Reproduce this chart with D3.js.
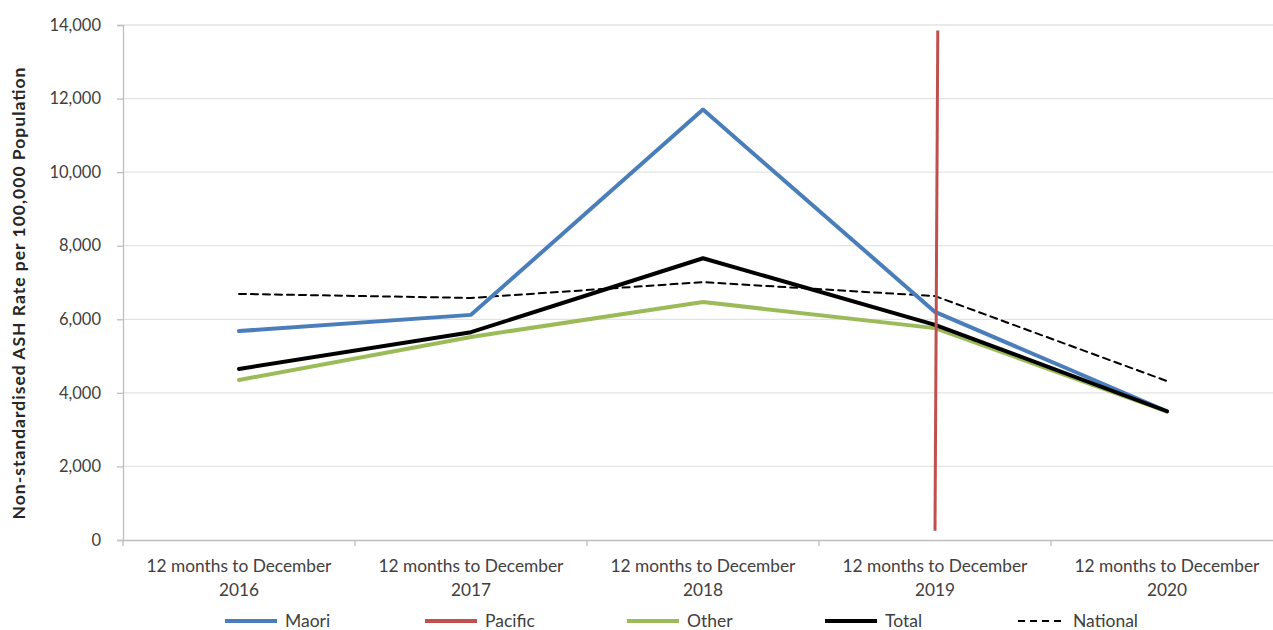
<!DOCTYPE html>
<html>
<head>
<meta charset="utf-8">
<script src="https://d3js.org/d3.v7.min.js"></script>
<style>
  html, body { margin: 0; padding: 0; background: #fff; }
  svg { display: block; }
  text { font-family: Lato, "Open Sans", "Liberation Sans", sans-serif; }
</style>
</head>
<body>
<svg id="chart" width="1273" height="630"></svg>
<script>
// Periods on the x axis (two-line labels)
const categories = [
  ["12 months to December", "2016"],
  ["12 months to December", "2017"],
  ["12 months to December", "2018"],
  ["12 months to December", "2019"],
  ["12 months to December", "2020"]
];

// Non-standardised ASH rate per 100,000 population
const maori    = [5680, 6120, 11700, 6200, 3500];
const other    = [4350, 5520, 6470, 5760, 3490];
const total    = [4650, 5650, 7660, 5850, 3500];
const national = [6690, 6580, 7010, 6630, 4320];
// Pacific appears as a single near-vertical stroke at the 2019 period
const pacificIndex = 3;
const pacific = [13850, 250];

const yTicks = [0, 2000, 4000, 6000, 8000, 10000, 12000, 14000];
const legendItems = ["Maori", "Pacific", "Other", "Total", "National"];

const colors = {
  Maori: "#4a7ebb",
  Pacific: "#c0504d",
  Other: "#9bbb59",
  Total: "#000000",
  National: "#000000"
};

const svg = d3.select("#chart");
const plotLeft = 123, plotRight = 1283, plotTop = 25, plotBottom = 540;

const x = d3.scaleBand().domain(d3.range(categories.length)).range([plotLeft, plotRight]).padding(0);
const cx = i => x(i) + x.bandwidth() / 2;
const y = d3.scaleLinear().domain([0, 14000]).range([plotBottom, plotTop]);

// Gridlines
svg.append("g")
  .selectAll("line")
  .data(yTicks.filter(d => d > 0))
  .join("line")
  .attr("x1", plotLeft).attr("x2", plotRight)
  .attr("y1", d => y(d)).attr("y2", d => y(d))
  .attr("stroke", "#e3e3e3").attr("stroke-width", 1.3);

// Y axis
const yAxis = svg.append("g")
  .attr("transform", `translate(${plotLeft},0)`)
  .call(d3.axisLeft(y).tickValues(yTicks).tickFormat(d3.format(",")).tickSize(6).tickPadding(16));
yAxis.select(".domain").attr("stroke", "#bfbfbf").attr("stroke-width", 1.3);
yAxis.selectAll(".tick line").attr("stroke", "#bfbfbf").attr("stroke-width", 1.3);
yAxis.selectAll(".tick text").attr("font-size", 16.5).attr("fill", "#404040");

// X axis
const xAxis = svg.append("g")
  .attr("transform", `translate(0,${plotBottom})`)
  .call(d3.axisBottom(x).tickSize(0).tickFormat(""));
xAxis.select(".domain").attr("stroke", "#bfbfbf").attr("stroke-width", 1.3);
svg.append("g")
  .selectAll("line")
  .data(d3.range(categories.length + 1))
  .join("line")
  .attr("x1", i => plotLeft + i * x.bandwidth()).attr("x2", i => plotLeft + i * x.bandwidth())
  .attr("y1", plotBottom).attr("y2", plotBottom + 6)
  .attr("stroke", "#bfbfbf").attr("stroke-width", 1.3);

const catLabels = svg.append("g")
  .selectAll("text")
  .data(categories)
  .join("text")
  .attr("x", (d, i) => cx(i))
  .attr("y", 572)
  .attr("text-anchor", "middle")
  .attr("font-size", 17.3)
  .attr("fill", "#404040");
catLabels.append("tspan").attr("x", (d, i) => cx(i)).attr("dy", 0).text(d => d[0]);
catLabels.append("tspan").attr("x", (d, i) => cx(i)).attr("dy", 24).text(d => d[1]);

// Y axis title
svg.append("text")
  .attr("transform", `translate(25,${(plotTop + plotBottom) / 2 + 11}) rotate(-90)`)
  .attr("text-anchor", "middle")
  .attr("font-size", 17.5)
  .attr("font-weight", "bold")
  .attr("fill", "#262626")
  .attr("textLength", 452)
  .attr("lengthAdjust", "spacing")
  .text("Non-standardised ASH Rate per 100,000 Population");

// Series lines
const line = d3.line().x((d, i) => cx(i)).y(d => y(d));

function drawSeries(values, color, width, dash) {
  svg.append("path")
    .datum(values)
    .attr("d", line)
    .attr("fill", "none")
    .attr("stroke", color)
    .attr("stroke-width", width)
    .attr("stroke-linejoin", "round")
    .attr("stroke-linecap", "round")
    .attr("stroke-dasharray", dash || null);
}

drawSeries(national, colors.National, 2, "7,5");
drawSeries(maori, colors.Maori, 4);
drawSeries(other, colors.Other, 4);
drawSeries(total, colors.Total, 4);

// Pacific stroke
const pacificLine = d3.line()
  .x((d, i) => cx(pacificIndex) + (i === 0 ? 0.012 : 0) * x.bandwidth())
  .y(d => y(d));
svg.append("path")
  .datum(pacific)
  .attr("d", pacificLine)
  .attr("fill", "none")
  .attr("stroke", colors.Pacific)
  .attr("stroke-width", 3);

// Legend
const legendX = [225, 425, 627, 825, 1018];
const legend = svg.append("g")
  .selectAll("g")
  .data(legendItems)
  .join("g")
  .attr("transform", (d, i) => `translate(${legendX[i]},621)`);
legend.append("line")
  .attr("x1", 0).attr("x2", d => d === "National" ? 44 : 52)
  .attr("y1", 0).attr("y2", 0)
  .attr("stroke", d => colors[d])
  .attr("stroke-width", d => d === "National" ? 2 : 4)
  .attr("stroke-dasharray", d => d === "National" ? "7,5" : null);
legend.append("text")
  .attr("x", d => d === "National" ? 55 : 60)
  .attr("y", 6)
  .attr("font-size", 17.5)
  .attr("fill", "#404040")
  .text(d => d);
</script>
</body>
</html>
